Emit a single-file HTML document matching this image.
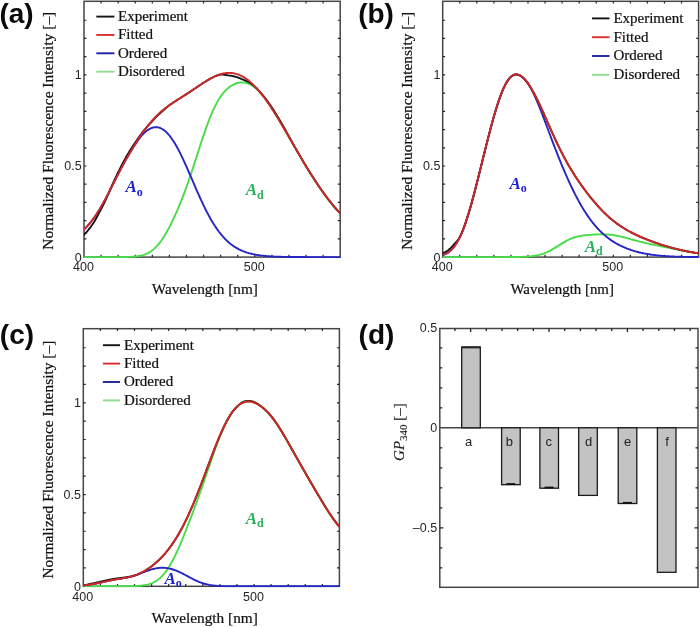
<!DOCTYPE html>
<html><head><meta charset="utf-8"><title>Fluorescence spectra</title><style>
html,body{margin:0;padding:0;background:#fff;}
body{width:700px;height:627px;overflow:hidden;}
svg{display:block;will-change:transform;filter:blur(0.3px);}
.tk{font-family:"Liberation Sans",sans-serif;font-size:12.5px;fill:#262626;}
.ax{font-family:"Liberation Serif",serif;font-size:15.3px;fill:#111;stroke:#111;stroke-width:0.22px;}
.ay{font-family:"Liberation Serif",serif;font-size:15.45px;fill:#111;stroke:#111;stroke-width:0.22px;}
.lg{font-family:"Liberation Serif",serif;font-size:15px;fill:#111;stroke:#111;stroke-width:0.22px;}
.pl{font-family:"Liberation Sans",sans-serif;font-size:28px;font-weight:bold;fill:#0a0a0a;}
.al{font-family:"Liberation Serif",serif;font-size:17px;font-weight:bold;font-style:italic;}
.as{font-family:"Liberation Serif",serif;font-size:12px;font-weight:bold;}
.bl{font-family:"Liberation Sans",sans-serif;font-size:13px;fill:#222;}
.gp{font-family:"Liberation Serif",serif;font-size:15px;fill:#1a1a1a;stroke:#1a1a1a;stroke-width:0.15px;}
</style></head>
<body><svg width="700" height="627" viewBox="0 0 700 627">
<defs><clipPath id="ca"><rect x="84.0" y="1.3" width="256.20" height="256.80"/></clipPath><clipPath id="cb"><rect x="442.7" y="1.3" width="255.90" height="256.80"/></clipPath><clipPath id="cc"><rect x="83.3" y="328.7" width="256.10" height="258.60"/></clipPath></defs>
<rect x="84.0" y="1.3" width="256.20" height="255.80" fill="none" stroke="#464646" stroke-width="1.5"/>
<path d="M101.08,257.1v-2.3M101.08,1.3v2.3M118.16,257.1v-2.3M118.16,1.3v2.3M135.24,257.1v-2.3M135.24,1.3v2.3M152.32,257.1v-2.3M152.32,1.3v2.3M169.40,257.1v-2.3M169.40,1.3v2.3M186.48,257.1v-2.3M186.48,1.3v2.3M203.56,257.1v-2.3M203.56,1.3v2.3M220.64,257.1v-2.3M220.64,1.3v2.3M237.72,257.1v-2.3M237.72,1.3v2.3M254.80,257.1v-2.3M254.80,1.3v2.3M271.88,257.1v-2.3M271.88,1.3v2.3M288.96,257.1v-2.3M288.96,1.3v2.3M306.04,257.1v-2.3M306.04,1.3v2.3M323.12,257.1v-2.3M323.12,1.3v2.3M84.0,238.88h2.4M340.2,238.88h-2.4M84.0,220.66h2.4M340.2,220.66h-2.4M84.0,202.44h2.4M340.2,202.44h-2.4M84.0,184.22h2.4M340.2,184.22h-2.4M84.0,166.00h2.4M340.2,166.00h-2.4M84.0,147.78h2.4M340.2,147.78h-2.4M84.0,129.56h2.4M340.2,129.56h-2.4M84.0,111.34h2.4M340.2,111.34h-2.4M84.0,93.12h2.4M340.2,93.12h-2.4M84.0,74.90h2.4M340.2,74.90h-2.4M84.0,56.68h2.4M340.2,56.68h-2.4M84.0,38.46h2.4M340.2,38.46h-2.4M84.0,20.24h2.4M340.2,20.24h-2.4" stroke="#262626" stroke-width="1.2" fill="none"/>
<text x="81.70" y="261.50" text-anchor="end" class="tk">0</text>
<text x="81.70" y="170.40" text-anchor="end" class="tk">0.5</text>
<text x="81.70" y="79.30" text-anchor="end" class="tk">1</text>
<text x="83.50" y="271.30" text-anchor="middle" class="tk">400</text>
<text x="254.30" y="271.30" text-anchor="middle" class="tk">500</text>
<g clip-path="url(#ca)"><polyline points="75.46,257.10 76.31,257.10 77.17,257.10 78.02,257.10 78.88,257.10 79.73,257.10 80.58,257.10 81.44,257.10 82.29,257.10 83.15,257.10 84.00,257.10 84.85,257.10 85.71,257.10 86.56,257.10 87.42,257.10 88.27,257.10 89.12,257.10 89.98,257.10 90.83,257.10 91.69,257.10 92.54,257.10 93.39,257.10 94.25,257.10 95.10,257.10 95.96,257.10 96.81,257.10 97.66,257.10 98.52,257.10 99.37,257.10 100.23,257.10 101.08,257.10 101.93,257.10 102.79,257.10 103.64,257.10 104.50,257.10 105.35,257.10 106.20,257.10 107.06,257.10 107.91,257.10 108.77,257.10 109.62,257.10 110.47,257.09 111.33,257.09 112.18,257.09 113.04,257.09 113.89,257.09 114.74,257.09 115.60,257.09 116.45,257.08 117.31,257.08 118.16,257.08 119.01,257.07 119.87,257.07 120.72,257.06 121.58,257.05 122.43,257.04 123.28,257.03 124.14,257.02 124.99,257.01 125.85,256.99 126.70,256.97 127.55,256.95 128.41,256.92 129.26,256.89 130.12,256.86 130.97,256.82 131.82,256.77 132.68,256.72 133.53,256.65 134.39,256.58 135.24,256.50 136.09,256.41 136.95,256.31 137.80,256.19 138.66,256.05 139.51,255.90 140.36,255.73 141.22,255.54 142.07,255.33 142.93,255.09 143.78,254.83 144.63,254.53 145.49,254.21 146.34,253.86 147.20,253.47 148.05,253.05 148.90,252.58 149.76,252.08 150.61,251.53 151.47,250.95 152.32,250.31 153.17,249.63 154.03,248.90 154.88,248.12 155.74,247.29 156.59,246.40 157.44,245.47 158.30,244.48 159.15,243.44 160.01,242.35 160.86,241.21 161.71,240.01 162.57,238.77 163.42,237.47 164.28,236.12 165.13,234.73 165.98,233.29 166.84,231.80 167.69,230.27 168.55,228.69 169.40,227.08 170.25,225.42 171.11,223.72 171.96,221.99 172.82,220.21 173.67,218.40 174.52,216.55 175.38,214.67 176.23,212.75 177.09,210.80 177.94,208.81 178.79,206.78 179.65,204.72 180.50,202.62 181.36,200.49 182.21,198.32 183.06,196.11 183.92,193.86 184.77,191.58 185.63,189.26 186.48,186.91 187.33,184.51 188.19,182.08 189.04,179.62 189.90,177.13 190.75,174.60 191.60,172.05 192.46,169.47 193.31,166.87 194.17,164.24 195.02,161.60 195.87,158.95 196.73,156.30 197.58,153.64 198.44,150.98 199.29,148.32 200.14,145.68 201.00,143.06 201.85,140.46 202.71,137.88 203.56,135.34 204.41,132.83 205.27,130.36 206.12,127.94 206.98,125.57 207.83,123.26 208.68,121.00 209.54,118.80 210.39,116.67 211.25,114.61 212.10,112.61 212.95,110.68 213.81,108.83 214.66,107.04 215.52,105.33 216.37,103.69 217.22,102.13 218.08,100.64 218.93,99.22 219.79,97.87 220.64,96.59 221.49,95.37 222.35,94.23 223.20,93.15 224.06,92.13 224.91,91.17 225.76,90.27 226.62,89.43 227.47,88.64 228.33,87.91 229.18,87.23 230.03,86.59 230.89,86.01 231.74,85.48 232.60,84.99 233.45,84.54 234.30,84.14 235.16,83.79 236.01,83.47 236.87,83.20 237.72,82.97 238.57,82.78 239.43,82.64 240.28,82.54 241.14,82.47 241.99,82.45 242.84,82.48 243.70,82.54 244.55,82.65 245.41,82.80 246.26,83.00 247.11,83.24 247.97,83.53 248.82,83.86 249.68,84.24 250.53,84.66 251.38,85.12 252.24,85.64 253.09,86.20 253.95,86.80 254.80,87.45 255.65,88.14 256.51,88.88 257.36,89.66 258.22,90.48 259.07,91.35 259.92,92.25 260.78,93.20 261.63,94.18 262.49,95.20 263.34,96.26 264.19,97.35 265.05,98.47 265.90,99.63 266.76,100.81 267.61,102.03 268.46,103.27 269.32,104.53 270.17,105.82 271.03,107.13 271.88,108.46 272.73,109.81 273.59,111.17 274.44,112.55 275.30,113.95 276.15,115.36 277.00,116.77 277.86,118.20 278.71,119.64 279.57,121.08 280.42,122.53 281.27,123.99 282.13,125.45 282.98,126.91 283.84,128.38 284.69,129.84 285.54,131.31 286.40,132.78 287.25,134.25 288.11,135.72 288.96,137.19 289.81,138.65 290.67,140.12 291.52,141.58 292.38,143.04 293.23,144.50 294.08,145.96 294.94,147.41 295.79,148.86 296.65,150.30 297.50,151.75 298.35,153.19 299.21,154.62 300.06,156.06 300.92,157.49 301.77,158.91 302.62,160.33 303.48,161.75 304.33,163.16 305.19,164.57 306.04,165.97 306.89,167.37 307.75,168.77 308.60,170.15 309.46,171.54 310.31,172.91 311.16,174.28 312.02,175.65 312.87,177.00 313.73,178.35 314.58,179.69 315.43,181.02 316.29,182.34 317.14,183.66 318.00,184.96 318.85,186.25 319.70,187.53 320.56,188.80 321.41,190.06 322.27,191.30 323.12,192.53 323.97,193.75 324.83,194.95 325.68,196.14 326.54,197.31 327.39,198.46 328.24,199.60 329.10,200.72 329.95,201.82 330.81,202.91 331.66,203.97 332.51,205.02 333.37,206.04 334.22,207.05 335.08,208.03 335.93,209.00 336.78,209.94 337.64,210.86 338.49,211.76 339.35,212.64 340.20,213.49 341.05,214.32 341.91,215.13 342.76,215.92 343.62,216.68 344.47,217.42 345.32,218.13 346.18,218.83 347.03,219.50 347.89,220.15 348.74,220.77" fill="none" stroke="#48dc48" stroke-width="1.9" stroke-linejoin="round"/>
<polyline points="75.46,236.60 76.31,235.99 77.17,235.35 78.02,234.70 78.88,234.03 79.73,233.34 80.58,232.62 81.44,231.88 82.29,231.12 83.15,230.33 84.00,229.52 84.85,228.68 85.71,227.81 86.56,226.91 87.42,225.99 88.27,225.03 89.12,224.05 89.98,223.03 90.83,221.98 91.69,220.90 92.54,219.79 93.39,218.64 94.25,217.46 95.10,216.24 95.96,214.99 96.81,213.70 97.66,212.38 98.52,211.03 99.37,209.64 100.23,208.22 101.08,206.77 101.93,205.29 102.79,203.79 103.64,202.25 104.50,200.69 105.35,199.11 106.20,197.50 107.06,195.88 107.91,194.24 108.77,192.58 109.62,190.91 110.47,189.24 111.33,187.55 112.18,185.87 113.04,184.18 113.89,182.49 114.74,180.80 115.60,179.12 116.45,177.44 117.31,175.77 118.16,174.12 119.01,172.47 119.87,170.84 120.72,169.22 121.58,167.62 122.43,166.04 123.28,164.47 124.14,162.92 124.99,161.38 125.85,159.87 126.70,158.37 127.55,156.90 128.41,155.44 129.26,154.00 130.12,152.58 130.97,151.18 131.82,149.81 132.68,148.45 133.53,147.10 134.39,145.78 135.24,144.47 136.09,143.18 136.95,141.93 137.80,140.70 138.66,139.51 139.51,138.36 140.36,137.26 141.22,136.21 142.07,135.21 142.93,134.27 143.78,133.38 144.63,132.56 145.49,131.80 146.34,131.10 147.20,130.45 148.05,129.87 148.90,129.33 149.76,128.85 150.61,128.43 151.47,128.07 152.32,127.77 153.17,127.54 154.03,127.36 154.88,127.25 155.74,127.21 156.59,127.22 157.44,127.31 158.30,127.46 159.15,127.67 160.01,127.96 160.86,128.31 161.71,128.73 162.57,129.22 163.42,129.77 164.28,130.39 165.13,131.08 165.98,131.83 166.84,132.66 167.69,133.54 168.55,134.49 169.40,135.51 170.25,136.59 171.11,137.73 171.96,138.93 172.82,140.18 173.67,141.50 174.52,142.87 175.38,144.30 176.23,145.77 177.09,147.30 177.94,148.88 178.79,150.50 179.65,152.16 180.50,153.86 181.36,155.60 182.21,157.38 183.06,159.19 183.92,161.03 184.77,162.90 185.63,164.79 186.48,166.70 187.33,168.64 188.19,170.59 189.04,172.55 189.90,174.52 190.75,176.50 191.60,178.48 192.46,180.47 193.31,182.45 194.17,184.44 195.02,186.41 195.87,188.38 196.73,190.33 197.58,192.27 198.44,194.20 199.29,196.11 200.14,198.00 201.00,199.86 201.85,201.71 202.71,203.52 203.56,205.31 204.41,207.07 205.27,208.81 206.12,210.51 206.98,212.17 207.83,213.81 208.68,215.40 209.54,216.97 210.39,218.50 211.25,219.99 212.10,221.44 212.95,222.86 213.81,224.23 214.66,225.58 215.52,226.88 216.37,228.14 217.22,229.37 218.08,230.56 218.93,231.71 219.79,232.82 220.64,233.90 221.49,234.94 222.35,235.94 223.20,236.91 224.06,237.85 224.91,238.75 225.76,239.61 226.62,240.45 227.47,241.25 228.33,242.02 229.18,242.76 230.03,243.47 230.89,244.15 231.74,244.80 232.60,245.43 233.45,246.02 234.30,246.60 235.16,247.14 236.01,247.67 236.87,248.16 237.72,248.64 238.57,249.10 239.43,249.53 240.28,249.94 241.14,250.34 241.99,250.71 242.84,251.07 243.70,251.41 244.55,251.73 245.41,252.04 246.26,252.33 247.11,252.61 247.97,252.87 248.82,253.12 249.68,253.35 250.53,253.58 251.38,253.79 252.24,253.99 253.09,254.18 253.95,254.36 254.80,254.53 255.65,254.69 256.51,254.84 257.36,254.98 258.22,255.11 259.07,255.24 259.92,255.36 260.78,255.47 261.63,255.58 262.49,255.68 263.34,255.77 264.19,255.86 265.05,255.94 265.90,256.02 266.76,256.10 267.61,256.16 268.46,256.23 269.32,256.29 270.17,256.35 271.03,256.40 271.88,256.45 272.73,256.49 273.59,256.54 274.44,256.58 275.30,256.62 276.15,256.65 277.00,256.68 277.86,256.71 278.71,256.74 279.57,256.77 280.42,256.79 281.27,256.82 282.13,256.84 282.98,256.86 283.84,256.88 284.69,256.90 285.54,256.91 286.40,256.93 287.25,256.94 288.11,256.95 288.96,256.96 289.81,256.98 290.67,256.99 291.52,256.99 292.38,257.00 293.23,257.01 294.08,257.02 294.94,257.03 295.79,257.03 296.65,257.04 297.50,257.04 298.35,257.05 299.21,257.05 300.06,257.06 300.92,257.06 301.77,257.06 302.62,257.07 303.48,257.07 304.33,257.07 305.19,257.07 306.04,257.08 306.89,257.08 307.75,257.08 308.60,257.08 309.46,257.08 310.31,257.09 311.16,257.09 312.02,257.09 312.87,257.09 313.73,257.09 314.58,257.09 315.43,257.09 316.29,257.09 317.14,257.09 318.00,257.09 318.85,257.09 319.70,257.10 320.56,257.10 321.41,257.10 322.27,257.10 323.12,257.10 323.97,257.10 324.83,257.10 325.68,257.10 326.54,257.10 327.39,257.10 328.24,257.10 329.10,257.10 329.95,257.10 330.81,257.10 331.66,257.10 332.51,257.10 333.37,257.10 334.22,257.10 335.08,257.10 335.93,257.10 336.78,257.10 337.64,257.10 338.49,257.10 339.35,257.10 340.20,257.10 341.05,257.10 341.91,257.10 342.76,257.10 343.62,257.10 344.47,257.10 345.32,257.10 346.18,257.10 347.03,257.10 347.89,257.10 348.74,257.10" fill="none" stroke="#2626c4" stroke-width="1.9" stroke-linejoin="round"/>
<polyline points="75.46,241.99 76.31,241.37 77.17,240.73 78.02,240.07 78.88,239.39 79.73,238.68 80.58,237.95 81.44,237.20 82.29,236.43 83.15,235.63 84.00,234.80 84.85,233.93 85.71,233.01 86.56,232.04 87.42,231.04 88.27,230.00 89.12,228.94 89.98,227.84 90.83,226.71 91.69,225.54 92.54,224.31 93.39,223.04 94.25,221.68 95.10,220.22 95.96,218.67 96.81,217.08 97.66,215.48 98.52,213.90 99.37,212.34 100.23,210.76 101.08,209.17 101.93,207.54 102.79,205.86 103.64,204.14 104.50,202.37 105.35,200.56 106.20,198.72 107.06,196.85 107.91,194.96 108.77,193.02 109.62,191.04 110.47,189.03 111.33,187.03 112.18,185.08 113.04,183.18 113.89,181.30 114.74,179.44 115.60,177.60 116.45,175.79 117.31,174.01 118.16,172.27 119.01,170.56 119.87,168.87 120.72,167.19 121.58,165.54 122.43,163.90 123.28,162.29 124.14,160.69 124.99,159.12 125.85,157.58 126.70,156.06 127.55,154.57 128.41,153.13 129.26,151.71 130.12,150.33 130.97,148.98 131.82,147.65 132.68,146.33 133.53,145.04 134.39,143.75 135.24,142.47 136.09,141.20 136.95,139.95 137.80,138.72 138.66,137.50 139.51,136.30 140.36,135.12 141.22,133.96 142.07,132.82 142.93,131.70 143.78,130.61 144.63,129.55 145.49,128.54 146.34,127.57 147.20,126.62 148.05,125.69 148.90,124.78 149.76,123.87 150.61,122.95 151.47,122.02 152.32,121.07 153.17,120.12 154.03,119.18 154.88,118.28 155.74,117.39 156.59,116.53 157.44,115.69 158.30,114.87 159.15,114.08 160.01,113.30 160.86,112.55 161.71,111.79 162.57,111.02 163.42,110.24 164.28,109.46 165.13,108.69 165.98,107.93 166.84,107.19 167.69,106.49 168.55,105.82 169.40,105.20 170.25,104.61 171.11,104.02 171.96,103.45 172.82,102.88 173.67,102.32 174.52,101.76 175.38,101.21 176.23,100.66 177.09,100.12 177.94,99.57 178.79,99.03 179.65,98.48 180.50,97.94 181.36,97.40 182.21,96.85 183.06,96.31 183.92,95.76 184.77,95.21 185.63,94.66 186.48,94.10 187.33,93.55 188.19,92.99 189.04,92.42 189.90,91.86 190.75,91.29 191.60,90.72 192.46,90.15 193.31,89.58 194.17,89.00 195.02,88.43 195.87,87.85 196.73,87.28 197.58,86.70 198.44,86.13 199.29,85.56 200.14,84.99 201.00,84.43 201.85,83.87 202.71,83.31 203.56,82.76 204.41,82.22 205.27,81.68 206.12,81.15 206.98,80.63 207.83,80.12 208.68,79.62 209.54,79.13 210.39,78.66 211.25,78.19 212.10,77.74 212.95,77.31 213.81,76.89 214.66,76.49 215.52,76.13 216.37,75.79 217.22,75.48 218.08,75.19 218.93,74.93 219.79,74.74 220.64,74.64 221.49,74.61 222.35,74.61 223.20,74.64 224.06,74.71 224.91,74.84 225.76,75.00 226.62,75.17 227.47,75.29 228.33,75.37 229.18,75.48 230.03,75.60 230.89,75.75 231.74,75.91 232.60,76.09 233.45,76.28 234.30,76.49 235.16,76.70 236.01,76.93 236.87,77.18 237.72,77.46 238.57,77.77 239.43,78.11 240.28,78.48 241.14,78.83 241.99,79.17 242.84,79.52 243.70,79.89 244.55,80.25 245.41,80.58 246.26,80.92 247.11,81.29 247.97,81.71 248.82,82.16 249.68,82.63 250.53,83.15 251.38,83.74 252.24,84.40 253.09,85.11 253.95,85.85 254.80,86.64 255.65,87.45 256.51,88.30 257.36,89.17 258.22,90.05 259.07,90.96 259.92,91.89 260.78,92.84 261.63,93.82 262.49,94.82 263.34,95.87 264.19,96.93 265.05,98.02 265.90,99.12 266.76,100.25 267.61,101.40 268.46,102.57 269.32,103.78 270.17,105.01 271.03,106.27 271.88,107.57 272.73,108.88 273.59,110.22 274.44,111.56 275.30,112.92 276.15,114.30 277.00,115.68 277.86,117.08 278.71,118.48 279.57,119.90 280.42,121.32 281.27,122.77 282.13,124.24 282.98,125.73 283.84,127.24 284.69,128.76 285.54,130.30 286.40,131.84 287.25,133.38 288.11,134.93 288.96,136.46 289.81,138.00 290.67,139.55 291.52,141.11 292.38,142.66 293.23,144.21 294.08,145.76 294.94,147.29 295.79,148.82 296.65,150.32 297.50,151.80 298.35,153.27 299.21,154.73 300.06,156.19 300.92,157.64 301.77,159.09 302.62,160.53 303.48,161.96 304.33,163.39 305.19,164.81 306.04,166.22 306.89,167.63 307.75,169.02 308.60,170.41 309.46,171.78 310.31,173.15 311.16,174.51 312.02,175.86 312.87,177.19 313.73,178.52 314.58,179.84 315.43,181.14 316.29,182.43 317.14,183.71 318.00,184.98 318.85,186.24 319.70,187.48 320.56,188.71 321.41,189.93 322.27,191.14 323.12,192.33 323.97,193.51 324.83,194.68 325.68,195.83 326.54,196.97 327.39,198.10 328.24,199.21 329.10,200.31 329.95,201.39 330.81,202.46 331.66,203.52 332.51,204.57 333.37,205.60 334.22,206.61 335.08,207.61 335.93,208.60 336.78,209.58 337.64,210.54 338.49,211.48 339.35,212.42 340.20,213.34 341.05,214.24 341.91,215.13 342.76,216.01 343.62,216.88 344.47,217.73 345.32,218.57 346.18,219.39 347.03,220.20 347.89,221.00 348.74,221.79" fill="none" stroke="#141414" stroke-width="1.9" stroke-linejoin="round"/>
<polyline points="75.46,236.60 76.31,235.99 77.17,235.35 78.02,234.70 78.88,234.03 79.73,233.34 80.58,232.62 81.44,231.88 82.29,231.12 83.15,230.33 84.00,229.52 84.85,228.68 85.71,227.81 86.56,226.91 87.42,225.99 88.27,225.03 89.12,224.05 89.98,223.03 90.83,221.98 91.69,220.90 92.54,219.79 93.39,218.64 94.25,217.45 95.10,216.24 95.96,214.99 96.81,213.70 97.66,212.38 98.52,211.03 99.37,209.64 100.23,208.22 101.08,206.77 101.93,205.29 102.79,203.78 103.64,202.25 104.50,200.69 105.35,199.10 106.20,197.50 107.06,195.87 107.91,194.23 108.77,192.58 109.62,190.91 110.47,189.23 111.33,187.55 112.18,185.86 113.04,184.17 113.89,182.47 114.74,180.79 115.60,179.10 116.45,177.42 117.31,175.75 118.16,174.09 119.01,172.44 119.87,170.81 120.72,169.18 121.58,167.58 122.43,165.98 123.28,164.40 124.14,162.84 124.99,161.29 125.85,159.76 126.70,158.25 127.55,156.75 128.41,155.26 129.26,153.79 130.12,152.34 130.97,150.90 131.82,149.48 132.68,148.07 133.53,146.67 134.39,145.30 135.24,143.93 136.09,142.58 136.95,141.25 137.80,139.93 138.66,138.62 139.51,137.33 140.36,136.06 141.22,134.81 142.07,133.57 142.93,132.35 143.78,131.16 144.63,129.98 145.49,128.82 146.34,127.68 147.20,126.56 148.05,125.47 148.90,124.40 149.76,123.35 150.61,122.32 151.47,121.32 152.32,120.34 153.17,119.39 154.03,118.46 154.88,117.55 155.74,116.66 156.59,115.80 157.44,114.96 158.30,114.15 159.15,113.35 160.01,112.58 160.86,111.82 161.71,111.09 162.57,110.37 163.42,109.67 164.28,108.99 165.13,108.32 165.98,107.67 166.84,107.04 167.69,106.41 168.55,105.80 169.40,105.20 170.25,104.61 171.11,104.02 171.96,103.45 172.82,102.88 173.67,102.32 174.52,101.76 175.38,101.21 176.23,100.66 177.09,100.12 177.94,99.57 178.79,99.03 179.65,98.48 180.50,97.94 181.36,97.40 182.21,96.85 183.06,96.31 183.92,95.76 184.77,95.21 185.63,94.66 186.48,94.10 187.33,93.55 188.19,92.99 189.04,92.42 189.90,91.86 190.75,91.29 191.60,90.72 192.46,90.15 193.31,89.58 194.17,89.00 195.02,88.43 195.87,87.85 196.73,87.28 197.58,86.70 198.44,86.13 199.29,85.56 200.14,84.99 201.00,84.43 201.85,83.87 202.71,83.31 203.56,82.76 204.41,82.22 205.27,81.68 206.12,81.15 206.98,80.63 207.83,80.12 208.68,79.62 209.54,79.13 210.39,78.66 211.25,78.19 212.10,77.74 212.95,77.31 213.81,76.89 214.66,76.49 215.52,76.10 216.37,75.74 217.22,75.39 218.08,75.06 218.93,74.75 219.79,74.47 220.64,74.20 221.49,73.96 222.35,73.74 223.20,73.54 224.06,73.37 224.91,73.23 225.76,73.11 226.62,73.01 227.47,72.95 228.33,72.91 229.18,72.89 230.03,72.91 230.89,72.95 231.74,73.02 232.60,73.13 233.45,73.26 234.30,73.42 235.16,73.61 236.01,73.83 236.87,74.08 237.72,74.36 238.57,74.67 239.43,75.02 240.28,75.39 241.14,75.79 241.99,76.23 242.84,76.69 243.70,77.18 244.55,77.71 245.41,78.27 246.26,78.85 247.11,79.47 247.97,80.11 248.82,80.79 249.68,81.49 250.53,82.22 251.38,82.98 252.24,83.77 253.09,84.59 253.95,85.43 254.80,86.31 255.65,87.20 256.51,88.13 257.36,89.08 258.22,90.05 259.07,91.06 259.92,92.08 260.78,93.13 261.63,94.20 262.49,95.30 263.34,96.41 264.19,97.55 265.05,98.71 265.90,99.89 266.76,101.09 267.61,102.31 268.46,103.54 269.32,104.80 270.17,106.07 271.03,107.35 271.88,108.66 272.73,109.98 273.59,111.31 274.44,112.66 275.30,114.02 276.15,115.39 277.00,116.77 277.86,118.17 278.71,119.58 279.57,120.99 280.42,122.42 281.27,123.85 282.13,125.29 282.98,126.74 283.84,128.19 284.69,129.65 285.54,131.11 286.40,132.58 287.25,134.06 288.11,135.53 288.96,137.01 289.81,138.49 290.67,139.97 291.52,141.45 292.38,142.94 293.23,144.42 294.08,145.90 294.94,147.38 295.79,148.85 296.65,150.33 297.50,151.80 298.35,153.27 299.21,154.73 300.06,156.19 300.92,157.64 301.77,159.09 302.62,160.53 303.48,161.96 304.33,163.39 305.19,164.81 306.04,166.22 306.89,167.63 307.75,169.02 308.60,170.41 309.46,171.78 310.31,173.15 311.16,174.51 312.02,175.86 312.87,177.19 313.73,178.52 314.58,179.84 315.43,181.14 316.29,182.43 317.14,183.71 318.00,184.98 318.85,186.24 319.70,187.48 320.56,188.71 321.41,189.93 322.27,191.14 323.12,192.33 323.97,193.51 324.83,194.68 325.68,195.83 326.54,196.97 327.39,198.10 328.24,199.21 329.10,200.31 329.95,201.39 330.81,202.46 331.66,203.52 332.51,204.57 333.37,205.60 334.22,206.61 335.08,207.61 335.93,208.60 336.78,209.58 337.64,210.54 338.49,211.48 339.35,212.42 340.20,213.34 341.05,214.24 341.91,215.13 342.76,216.01 343.62,216.88 344.47,217.73 345.32,218.57 346.18,219.39 347.03,220.20 347.89,221.00 348.74,221.79" fill="none" stroke="#d02828" stroke-width="1.9" stroke-linejoin="round"/></g>
<line x1="96.3" y1="16.60" x2="114.4" y2="16.60" stroke="#141414" stroke-width="1.9"/>
<text x="118" y="20.90" class="lg">Experiment</text>
<line x1="96.3" y1="34.95" x2="114.4" y2="34.95" stroke="#dc3030" stroke-width="1.9"/>
<text x="118" y="39.25" class="lg">Fitted</text>
<line x1="96.3" y1="53.30" x2="114.4" y2="53.30" stroke="#20209e" stroke-width="1.9"/>
<text x="118" y="57.60" class="lg">Ordered</text>
<line x1="96.3" y1="71.65" x2="114.4" y2="71.65" stroke="#8ede8e" stroke-width="1.9"/>
<text x="118" y="75.95" class="lg">Disordered</text>
<text transform="translate(53.2,130.7) rotate(-90)" text-anchor="middle" class="ay">Normalized Fluorescence Intensity [–]</text>
<text x="204.8" y="294.0" text-anchor="middle" class="ax">Wavelength [nm]</text>
<text x="125.5" y="192.3" class="al" fill="#1c22cc">A</text><text x="136.70" y="195.90" class="as" fill="#1c22cc">o</text>
<text x="245.8" y="195.4" class="al" fill="#2bb05c">A</text><text x="257.00" y="199.00" class="as" fill="#2bb05c">d</text>
<text x="-0.6" y="23.2" class="pl">(a)</text>
<rect x="442.7" y="1.3" width="255.90" height="255.80" fill="none" stroke="#464646" stroke-width="1.5"/>
<path d="M459.76,257.1v-2.3M459.76,1.3v2.3M476.82,257.1v-2.3M476.82,1.3v2.3M493.88,257.1v-2.3M493.88,1.3v2.3M510.94,257.1v-2.3M510.94,1.3v2.3M528.00,257.1v-2.3M528.00,1.3v2.3M545.06,257.1v-2.3M545.06,1.3v2.3M562.12,257.1v-2.3M562.12,1.3v2.3M579.18,257.1v-2.3M579.18,1.3v2.3M596.24,257.1v-2.3M596.24,1.3v2.3M613.30,257.1v-2.3M613.30,1.3v2.3M630.36,257.1v-2.3M630.36,1.3v2.3M647.42,257.1v-2.3M647.42,1.3v2.3M664.48,257.1v-2.3M664.48,1.3v2.3M681.54,257.1v-2.3M681.54,1.3v2.3M442.7,238.88h2.4M698.6,238.88h-2.4M442.7,220.66h2.4M698.6,220.66h-2.4M442.7,202.44h2.4M698.6,202.44h-2.4M442.7,184.22h2.4M698.6,184.22h-2.4M442.7,166.00h2.4M698.6,166.00h-2.4M442.7,147.78h2.4M698.6,147.78h-2.4M442.7,129.56h2.4M698.6,129.56h-2.4M442.7,111.34h2.4M698.6,111.34h-2.4M442.7,93.12h2.4M698.6,93.12h-2.4M442.7,74.90h2.4M698.6,74.90h-2.4M442.7,56.68h2.4M698.6,56.68h-2.4M442.7,38.46h2.4M698.6,38.46h-2.4M442.7,20.24h2.4M698.6,20.24h-2.4" stroke="#262626" stroke-width="1.2" fill="none"/>
<text x="440.40" y="261.50" text-anchor="end" class="tk">0</text>
<text x="440.40" y="170.40" text-anchor="end" class="tk">0.5</text>
<text x="440.40" y="79.30" text-anchor="end" class="tk">1</text>
<text x="442.20" y="271.30" text-anchor="middle" class="tk">400</text>
<text x="612.80" y="271.30" text-anchor="middle" class="tk">500</text>
<g clip-path="url(#cb)"><polyline points="434.17,257.10 435.02,257.10 435.88,257.10 436.73,257.10 437.58,257.10 438.44,257.10 439.29,257.10 440.14,257.10 440.99,257.10 441.85,257.10 442.70,257.10 443.55,257.10 444.41,257.10 445.26,257.10 446.11,257.10 446.96,257.10 447.82,257.10 448.67,257.10 449.52,257.10 450.38,257.10 451.23,257.10 452.08,257.10 452.94,257.10 453.79,257.10 454.64,257.10 455.50,257.10 456.35,257.10 457.20,257.10 458.05,257.10 458.91,257.10 459.76,257.10 460.61,257.10 461.47,257.10 462.32,257.10 463.17,257.10 464.02,257.10 464.88,257.10 465.73,257.10 466.58,257.10 467.44,257.10 468.29,257.10 469.14,257.10 470.00,257.10 470.85,257.10 471.70,257.10 472.56,257.10 473.41,257.10 474.26,257.10 475.11,257.10 475.97,257.10 476.82,257.10 477.67,257.10 478.53,257.10 479.38,257.10 480.23,257.10 481.08,257.10 481.94,257.10 482.79,257.10 483.64,257.10 484.50,257.10 485.35,257.10 486.20,257.10 487.06,257.10 487.91,257.10 488.76,257.10 489.62,257.10 490.47,257.10 491.32,257.10 492.17,257.09 493.03,257.09 493.88,257.09 494.73,257.09 495.59,257.09 496.44,257.09 497.29,257.09 498.14,257.09 499.00,257.09 499.85,257.09 500.70,257.09 501.56,257.08 502.41,257.08 503.26,257.08 504.12,257.08 504.97,257.08 505.82,257.07 506.68,257.07 507.53,257.07 508.38,257.06 509.23,257.06 510.09,257.05 510.94,257.05 511.79,257.04 512.65,257.04 513.50,257.03 514.35,257.02 515.21,257.01 516.06,257.00 516.91,256.99 517.76,256.97 518.62,256.95 519.47,256.94 520.32,256.92 521.18,256.89 522.03,256.87 522.88,256.84 523.74,256.80 524.59,256.76 525.44,256.72 526.29,256.68 527.15,256.62 528.00,256.56 528.85,256.50 529.71,256.42 530.56,256.34 531.41,256.25 532.26,256.15 533.12,256.04 533.97,255.92 534.82,255.78 535.68,255.64 536.53,255.48 537.38,255.30 538.24,255.11 539.09,254.91 539.94,254.69 540.79,254.45 541.65,254.19 542.50,253.92 543.35,253.62 544.21,253.31 545.06,252.98 545.91,252.63 546.77,252.26 547.62,251.87 548.47,251.46 549.33,251.04 550.18,250.59 551.03,250.14 551.88,249.66 552.74,249.17 553.59,248.67 554.44,248.16 555.30,247.64 556.15,247.11 557.00,246.58 557.86,246.04 558.71,245.50 559.56,244.96 560.41,244.42 561.27,243.88 562.12,243.36 562.97,242.84 563.83,242.33 564.68,241.83 565.53,241.35 566.38,240.88 567.24,240.43 568.09,239.99 568.94,239.58 569.80,239.18 570.65,238.81 571.50,238.46 572.36,238.12 573.21,237.81 574.06,237.52 574.91,237.25 575.77,237.00 576.62,236.77 577.47,236.56 578.33,236.36 579.18,236.18 580.03,236.02 580.89,235.87 581.74,235.73 582.59,235.61 583.44,235.49 584.30,235.38 585.15,235.29 586.00,235.20 586.86,235.11 587.71,235.04 588.56,234.96 589.42,234.89 590.27,234.83 591.12,234.77 591.98,234.71 592.83,234.66 593.68,234.60 594.53,234.56 595.39,234.51 596.24,234.47 597.09,234.43 597.95,234.40 598.80,234.37 599.65,234.35 600.50,234.33 601.36,234.33 602.21,234.32 603.06,234.33 603.92,234.34 604.77,234.37 605.62,234.40 606.48,234.44 607.33,234.49 608.18,234.55 609.03,234.62 609.89,234.70 610.74,234.79 611.59,234.89 612.45,235.00 613.30,235.13 614.15,235.26 615.01,235.40 615.86,235.55 616.71,235.71 617.57,235.88 618.42,236.06 619.27,236.24 620.12,236.43 620.98,236.63 621.83,236.83 622.68,237.04 623.54,237.26 624.39,237.48 625.24,237.70 626.10,237.93 626.95,238.15 627.80,238.38 628.65,238.62 629.51,238.85 630.36,239.08 631.21,239.32 632.07,239.55 632.92,239.78 633.77,240.02 634.62,240.25 635.48,240.47 636.33,240.70 637.18,240.93 638.04,241.15 638.89,241.37 639.74,241.59 640.60,241.80 641.45,242.02 642.30,242.23 643.15,242.43 644.01,242.64 644.86,242.84 645.71,243.04 646.57,243.24 647.42,243.43 648.27,243.62 649.13,243.81 649.98,244.00 650.83,244.18 651.68,244.37 652.54,244.55 653.39,244.73 654.24,244.90 655.10,245.08 655.95,245.25 656.80,245.43 657.66,245.60 658.51,245.77 659.36,245.94 660.22,246.11 661.07,246.28 661.92,246.45 662.77,246.62 663.63,246.79 664.48,246.96 665.33,247.13 666.19,247.29 667.04,247.46 667.89,247.63 668.75,247.80 669.60,247.96 670.45,248.13 671.30,248.30 672.16,248.46 673.01,248.63 673.86,248.80 674.72,248.96 675.57,249.13 676.42,249.29 677.27,249.46 678.13,249.62 678.98,249.79 679.83,249.95 680.69,250.11 681.54,250.27 682.39,250.44 683.25,250.60 684.10,250.75 684.95,250.91 685.81,251.07 686.66,251.22 687.51,251.38 688.36,251.53 689.22,251.68 690.07,251.83 690.92,251.98 691.78,252.12 692.63,252.27 693.48,252.41 694.34,252.55 695.19,252.69 696.04,252.83 696.89,252.96 697.75,253.09 698.60,253.22 699.45,253.35 700.31,253.47 701.16,253.59 702.01,253.71 702.87,253.83 703.72,253.94 704.57,254.06 705.42,254.17 706.28,254.27 707.13,254.38" fill="none" stroke="#48dc48" stroke-width="1.9" stroke-linejoin="round"/>
<polyline points="434.17,256.58 435.02,256.51 435.88,256.42 436.73,256.32 437.58,256.21 438.44,256.08 439.29,255.93 440.14,255.75 440.99,255.55 441.85,255.33 442.70,255.07 443.55,254.78 444.41,254.45 445.26,254.08 446.11,253.67 446.96,253.20 447.82,252.68 448.67,252.11 449.52,251.47 450.38,250.76 451.23,249.98 452.08,249.12 452.94,248.18 453.79,247.16 454.64,246.05 455.50,244.84 456.35,243.54 457.20,242.14 458.05,240.64 458.91,239.03 459.76,237.32 460.61,235.50 461.47,233.57 462.32,231.54 463.17,229.39 464.02,227.15 464.88,224.80 465.73,222.34 466.58,219.79 467.44,217.15 468.29,214.42 469.14,211.60 470.00,208.70 470.85,205.72 471.70,202.67 472.56,199.56 473.41,196.39 474.26,193.17 475.11,189.90 475.97,186.59 476.82,183.24 477.67,179.87 478.53,176.47 479.38,173.05 480.23,169.61 481.08,166.17 481.94,162.73 482.79,159.28 483.64,155.84 484.50,152.40 485.35,148.99 486.20,145.59 487.06,142.21 487.91,138.86 488.76,135.54 489.62,132.26 490.47,129.02 491.32,125.82 492.17,122.68 493.03,119.59 493.88,116.57 494.73,113.61 495.59,110.73 496.44,107.92 497.29,105.20 498.14,102.57 499.00,100.04 499.85,97.60 500.70,95.27 501.56,93.05 502.41,90.95 503.26,88.96 504.12,87.10 504.97,85.36 505.82,83.75 506.68,82.26 507.53,80.91 508.38,79.69 509.23,78.60 510.09,77.65 510.94,76.82 511.79,76.13 512.65,75.56 513.50,75.12 514.35,74.80 515.21,74.60 516.06,74.52 516.91,74.56 517.76,74.71 518.62,74.97 519.47,75.33 520.32,75.79 521.18,76.35 522.03,76.99 522.88,77.70 523.74,78.48 524.59,79.33 525.44,80.25 526.29,81.26 527.15,82.35 528.00,83.53 528.85,84.82 529.71,86.20 530.56,87.69 531.41,89.26 532.26,90.92 533.12,92.64 533.97,94.42 534.82,96.27 535.68,98.17 536.53,100.12 537.38,102.12 538.24,104.16 539.09,106.25 539.94,108.37 540.79,110.52 541.65,112.70 542.50,114.90 543.35,117.12 544.21,119.37 545.06,121.62 545.91,123.89 546.77,126.16 547.62,128.44 548.47,130.72 549.33,133.00 550.18,135.28 551.03,137.55 551.88,139.81 552.74,142.06 553.59,144.31 554.44,146.53 555.30,148.75 556.15,150.95 557.00,153.13 557.86,155.30 558.71,157.45 559.56,159.57 560.41,161.68 561.27,163.77 562.12,165.83 562.97,167.87 563.83,169.89 564.68,171.89 565.53,173.86 566.38,175.81 567.24,177.73 568.09,179.63 568.94,181.51 569.80,183.36 570.65,185.18 571.50,186.98 572.36,188.75 573.21,190.50 574.06,192.22 574.91,193.91 575.77,195.57 576.62,197.21 577.47,198.81 578.33,200.39 579.18,201.95 580.03,203.47 580.89,204.96 581.74,206.43 582.59,207.87 583.44,209.27 584.30,210.65 585.15,212.00 586.00,213.32 586.86,214.61 587.71,215.87 588.56,217.10 589.42,218.31 590.27,219.48 591.12,220.63 591.98,221.74 592.83,222.83 593.68,223.90 594.53,224.93 595.39,225.94 596.24,226.92 597.09,227.87 597.95,228.80 598.80,229.70 599.65,230.58 600.50,231.43 601.36,232.26 602.21,233.07 603.06,233.85 603.92,234.61 604.77,235.35 605.62,236.07 606.48,236.77 607.33,237.44 608.18,238.10 609.03,238.74 609.89,239.36 610.74,239.96 611.59,240.54 612.45,241.10 613.30,241.65 614.15,242.18 615.01,242.70 615.86,243.20 616.71,243.69 617.57,244.16 618.42,244.62 619.27,245.06 620.12,245.49 620.98,245.91 621.83,246.32 622.68,246.71 623.54,247.09 624.39,247.46 625.24,247.82 626.10,248.17 626.95,248.51 627.80,248.83 628.65,249.15 629.51,249.46 630.36,249.75 631.21,250.04 632.07,250.32 632.92,250.59 633.77,250.86 634.62,251.11 635.48,251.35 636.33,251.59 637.18,251.82 638.04,252.04 638.89,252.26 639.74,252.46 640.60,252.67 641.45,252.86 642.30,253.05 643.15,253.23 644.01,253.40 644.86,253.57 645.71,253.73 646.57,253.88 647.42,254.03 648.27,254.18 649.13,254.31 649.98,254.45 650.83,254.58 651.68,254.70 652.54,254.82 653.39,254.93 654.24,255.04 655.10,255.14 655.95,255.24 656.80,255.34 657.66,255.43 658.51,255.52 659.36,255.60 660.22,255.68 661.07,255.76 661.92,255.83 662.77,255.90 663.63,255.97 664.48,256.03 665.33,256.09 666.19,256.15 667.04,256.20 667.89,256.25 668.75,256.30 669.60,256.35 670.45,256.39 671.30,256.43 672.16,256.47 673.01,256.51 673.86,256.55 674.72,256.58 675.57,256.61 676.42,256.64 677.27,256.67 678.13,256.70 678.98,256.73 679.83,256.75 680.69,256.77 681.54,256.79 682.39,256.81 683.25,256.83 684.10,256.85 684.95,256.87 685.81,256.88 686.66,256.90 687.51,256.91 688.36,256.93 689.22,256.94 690.07,256.95 690.92,256.96 691.78,256.97 692.63,256.98 693.48,256.99 694.34,257.00 695.19,257.00 696.04,257.01 696.89,257.02 697.75,257.02 698.60,257.03 699.45,257.03 700.31,257.04 701.16,257.04 702.01,257.05 702.87,257.05 703.72,257.06 704.57,257.06 705.42,257.06 706.28,257.07 707.13,257.07" fill="none" stroke="#2626c4" stroke-width="1.9" stroke-linejoin="round"/>
<polyline points="434.17,255.49 435.02,255.36 435.88,255.21 436.73,255.04 437.58,254.85 438.44,254.64 439.29,254.41 440.14,254.16 440.99,253.88 441.85,253.58 442.70,253.25 443.55,252.89 444.41,252.48 445.26,252.04 446.11,251.55 446.96,251.01 447.82,250.42 448.67,249.79 449.52,249.10 450.38,248.34 451.23,247.51 452.08,246.62 452.94,245.65 453.79,244.61 454.64,243.59 455.50,242.70 456.35,241.83 457.20,240.88 458.05,239.73 458.91,238.42 459.76,237.00 460.61,235.41 461.47,233.57 462.32,231.54 463.17,229.39 464.02,227.15 464.88,224.80 465.73,222.34 466.58,219.79 467.44,217.15 468.29,214.42 469.14,211.60 470.00,208.69 470.85,205.72 471.70,202.67 472.56,199.56 473.41,196.39 474.26,193.17 475.11,189.90 475.97,186.59 476.82,183.24 477.67,179.87 478.53,176.47 479.38,173.05 480.23,169.61 481.08,166.17 481.94,162.72 482.79,159.28 483.64,155.83 484.50,152.40 485.35,148.98 486.20,145.58 487.06,142.21 487.91,138.85 488.76,135.54 489.62,132.25 490.47,129.01 491.32,125.82 492.17,122.67 493.03,119.59 493.88,116.56 494.73,113.60 495.59,110.72 496.44,107.91 497.29,105.19 498.14,102.56 499.00,100.02 499.85,97.59 500.70,95.26 501.56,93.04 502.41,90.93 503.26,88.94 504.12,87.08 504.97,85.33 505.82,83.72 506.68,82.23 507.53,80.88 508.38,79.66 509.23,78.56 510.09,77.60 510.94,76.77 511.79,76.07 512.65,75.49 513.50,75.05 514.35,74.72 515.21,74.51 516.06,74.42 516.91,74.45 517.76,74.58 518.62,74.82 519.47,75.16 520.32,75.61 521.18,76.14 522.03,76.77 522.88,77.49 523.74,78.29 524.59,79.17 525.44,80.13 526.29,81.16 527.15,82.26 528.00,83.43 528.85,84.66 529.71,85.96 530.56,87.31 531.41,88.72 532.26,90.18 533.12,91.69 533.97,93.25 534.82,94.85 535.68,96.49 536.53,98.18 537.38,99.90 538.24,101.65 539.09,103.43 539.94,105.24 540.79,107.08 541.65,108.94 542.50,110.82 543.35,112.71 544.21,114.62 545.06,116.54 545.91,118.46 546.77,120.39 547.62,122.33 548.47,124.26 549.33,126.19 550.18,128.12 551.03,130.03 551.88,131.94 552.74,133.84 553.59,135.72 554.44,137.58 555.30,139.43 556.15,141.26 557.00,143.07 557.86,144.85 558.71,146.62 559.56,148.36 560.41,150.08 561.27,151.77 562.12,153.44 562.97,155.08 563.83,156.70 564.68,158.30 565.53,159.87 566.38,161.41 567.24,162.94 568.09,164.43 568.94,165.91 569.80,167.36 570.65,168.79 571.50,170.20 572.36,171.59 573.21,172.96 574.06,174.32 574.91,175.65 575.77,176.96 576.62,178.26 577.47,179.54 578.33,180.81 579.18,182.06 580.03,183.29 580.89,184.51 581.74,185.72 582.59,186.91 583.44,188.09 584.30,189.26 585.15,190.41 586.00,191.55 586.86,192.67 587.71,193.79 588.56,194.89 589.42,195.97 590.27,197.05 591.12,198.11 591.98,199.16 592.83,200.19 593.68,201.22 594.53,202.22 595.39,203.22 596.24,204.20 597.09,205.17 597.95,206.12 598.80,207.06 599.65,207.98 600.50,208.89 601.36,209.79 602.21,210.67 603.06,211.54 603.92,212.39 604.77,213.22 605.62,214.05 606.48,214.85 607.33,215.64 608.18,216.42 609.03,217.18 609.89,217.93 610.74,218.66 611.59,219.38 612.45,220.08 613.30,220.77 614.15,221.45 615.01,222.11 615.86,222.76 616.71,223.39 617.57,224.01 618.42,224.62 619.27,225.22 620.12,225.80 620.98,226.37 621.83,226.93 622.68,227.48 623.54,228.02 624.39,228.54 625.24,229.06 626.10,229.57 626.95,230.06 627.80,230.55 628.65,231.03 629.51,231.49 630.36,231.95 631.21,232.40 632.07,232.85 632.92,233.28 633.77,233.71 634.62,234.13 635.48,234.54 636.33,234.95 637.18,235.35 638.04,235.74 638.89,236.13 639.74,236.51 640.60,236.89 641.45,237.26 642.30,237.63 643.15,237.99 644.01,238.34 644.86,238.69 645.71,239.04 646.57,239.38 647.42,239.72 648.27,240.05 649.13,240.38 649.98,240.71 650.83,241.03 651.68,241.34 652.54,241.66 653.39,241.97 654.24,242.27 655.10,242.57 655.95,242.87 656.80,243.17 657.66,243.46 658.51,243.75 659.36,244.03 660.22,244.31 661.07,244.59 661.92,244.86 662.77,245.13 663.63,245.40 664.48,245.66 665.33,245.92 666.19,246.18 667.04,246.43 667.89,246.68 668.75,246.93 669.60,247.17 670.45,247.41 671.30,247.64 672.16,247.88 673.01,248.11 673.86,248.33 674.72,248.55 675.57,248.77 676.42,248.99 677.27,249.20 678.13,249.40 678.98,249.61 679.83,249.81 680.69,250.01 681.54,250.20 682.39,250.39 683.25,250.58 684.10,250.76 684.95,250.94 685.81,251.12 686.66,251.29 687.51,251.46 688.36,251.62 689.22,251.79 690.07,251.94 690.92,252.10 691.78,252.25 692.63,252.40 693.48,252.55 694.34,252.69 695.19,252.83 696.04,252.96 696.89,253.10 697.75,253.22 698.60,253.35 699.45,253.47 700.31,253.59 701.16,253.71 702.01,253.82 702.87,253.94 703.72,254.04 704.57,254.15 705.42,254.25 706.28,254.35 707.13,254.45" fill="none" stroke="#141414" stroke-width="1.9" stroke-linejoin="round"/>
<polyline points="434.17,256.58 435.02,256.51 435.88,256.42 436.73,256.32 437.58,256.21 438.44,256.08 439.29,255.93 440.14,255.75 440.99,255.55 441.85,255.33 442.70,255.07 443.55,254.78 444.41,254.45 445.26,254.08 446.11,253.67 446.96,253.20 447.82,252.68 448.67,252.11 449.52,251.47 450.38,250.76 451.23,249.98 452.08,249.12 452.94,248.18 453.79,247.16 454.64,246.05 455.50,244.84 456.35,243.54 457.20,242.14 458.05,240.64 458.91,239.03 459.76,237.32 460.61,235.50 461.47,233.57 462.32,231.54 463.17,229.39 464.02,227.15 464.88,224.80 465.73,222.34 466.58,219.79 467.44,217.15 468.29,214.42 469.14,211.60 470.00,208.69 470.85,205.72 471.70,202.67 472.56,199.56 473.41,196.39 474.26,193.17 475.11,189.90 475.97,186.59 476.82,183.24 477.67,179.87 478.53,176.47 479.38,173.05 480.23,169.61 481.08,166.17 481.94,162.72 482.79,159.28 483.64,155.83 484.50,152.40 485.35,148.98 486.20,145.58 487.06,142.21 487.91,138.85 488.76,135.54 489.62,132.25 490.47,129.01 491.32,125.82 492.17,122.67 493.03,119.59 493.88,116.56 494.73,113.60 495.59,110.72 496.44,107.91 497.29,105.19 498.14,102.56 499.00,100.02 499.85,97.59 500.70,95.26 501.56,93.04 502.41,90.93 503.26,88.94 504.12,87.08 504.97,85.33 505.82,83.72 506.68,82.23 507.53,80.88 508.38,79.66 509.23,78.56 510.09,77.60 510.94,76.77 511.79,76.07 512.65,75.49 513.50,75.05 514.35,74.72 515.21,74.51 516.06,74.42 516.91,74.45 517.76,74.58 518.62,74.82 519.47,75.16 520.32,75.61 521.18,76.14 522.03,76.77 522.88,77.49 523.74,78.29 524.59,79.17 525.44,80.13 526.29,81.16 527.15,82.26 528.00,83.43 528.85,84.66 529.71,85.96 530.56,87.31 531.41,88.72 532.26,90.18 533.12,91.69 533.97,93.25 534.82,94.85 535.68,96.49 536.53,98.18 537.38,99.90 538.24,101.65 539.09,103.43 539.94,105.24 540.79,107.08 541.65,108.94 542.50,110.82 543.35,112.71 544.21,114.62 545.06,116.54 545.91,118.46 546.77,120.39 547.62,122.33 548.47,124.26 549.33,126.19 550.18,128.12 551.03,130.03 551.88,131.94 552.74,133.84 553.59,135.72 554.44,137.58 555.30,139.43 556.15,141.26 557.00,143.07 557.86,144.85 558.71,146.62 559.56,148.36 560.41,150.08 561.27,151.77 562.12,153.44 562.97,155.08 563.83,156.70 564.68,158.30 565.53,159.87 566.38,161.41 567.24,162.94 568.09,164.43 568.94,165.91 569.80,167.36 570.65,168.79 571.50,170.20 572.36,171.59 573.21,172.96 574.06,174.32 574.91,175.65 575.77,176.96 576.62,178.26 577.47,179.54 578.33,180.81 579.18,182.06 580.03,183.29 580.89,184.51 581.74,185.72 582.59,186.91 583.44,188.09 584.30,189.26 585.15,190.41 586.00,191.55 586.86,192.67 587.71,193.79 588.56,194.89 589.42,195.97 590.27,197.05 591.12,198.11 591.98,199.16 592.83,200.19 593.68,201.22 594.53,202.22 595.39,203.22 596.24,204.20 597.09,205.17 597.95,206.12 598.80,207.06 599.65,207.98 600.50,208.89 601.36,209.79 602.21,210.67 603.06,211.54 603.92,212.39 604.77,213.22 605.62,214.05 606.48,214.85 607.33,215.64 608.18,216.42 609.03,217.18 609.89,217.93 610.74,218.66 611.59,219.38 612.45,220.08 613.30,220.77 614.15,221.45 615.01,222.11 615.86,222.76 616.71,223.39 617.57,224.01 618.42,224.62 619.27,225.22 620.12,225.80 620.98,226.37 621.83,226.93 622.68,227.48 623.54,228.02 624.39,228.54 625.24,229.06 626.10,229.57 626.95,230.06 627.80,230.55 628.65,231.03 629.51,231.49 630.36,231.95 631.21,232.40 632.07,232.85 632.92,233.28 633.77,233.71 634.62,234.13 635.48,234.54 636.33,234.95 637.18,235.35 638.04,235.74 638.89,236.13 639.74,236.51 640.60,236.89 641.45,237.26 642.30,237.63 643.15,237.99 644.01,238.34 644.86,238.69 645.71,239.04 646.57,239.38 647.42,239.72 648.27,240.05 649.13,240.38 649.98,240.71 650.83,241.03 651.68,241.34 652.54,241.66 653.39,241.97 654.24,242.27 655.10,242.57 655.95,242.87 656.80,243.17 657.66,243.46 658.51,243.75 659.36,244.03 660.22,244.31 661.07,244.59 661.92,244.86 662.77,245.13 663.63,245.40 664.48,245.66 665.33,245.92 666.19,246.18 667.04,246.43 667.89,246.68 668.75,246.93 669.60,247.17 670.45,247.41 671.30,247.64 672.16,247.88 673.01,248.11 673.86,248.33 674.72,248.55 675.57,248.77 676.42,248.99 677.27,249.20 678.13,249.40 678.98,249.61 679.83,249.81 680.69,250.01 681.54,250.20 682.39,250.39 683.25,250.58 684.10,250.76 684.95,250.94 685.81,251.12 686.66,251.29 687.51,251.46 688.36,251.62 689.22,251.79 690.07,251.94 690.92,252.10 691.78,252.25 692.63,252.40 693.48,252.55 694.34,252.69 695.19,252.83 696.04,252.96 696.89,253.10 697.75,253.22 698.60,253.35 699.45,253.47 700.31,253.59 701.16,253.71 702.01,253.82 702.87,253.94 703.72,254.04 704.57,254.15 705.42,254.25 706.28,254.35 707.13,254.45" fill="none" stroke="#d02828" stroke-width="1.9" stroke-linejoin="round"/></g>
<line x1="592" y1="18.40" x2="609.5" y2="18.40" stroke="#141414" stroke-width="1.9"/>
<text x="613.4" y="22.70" class="lg">Experiment</text>
<line x1="592" y1="37.20" x2="609.5" y2="37.20" stroke="#dc3030" stroke-width="1.9"/>
<text x="613.4" y="41.50" class="lg">Fitted</text>
<line x1="592" y1="56.00" x2="609.5" y2="56.00" stroke="#20209e" stroke-width="1.9"/>
<text x="613.4" y="60.30" class="lg">Ordered</text>
<line x1="592" y1="74.80" x2="609.5" y2="74.80" stroke="#8ede8e" stroke-width="1.9"/>
<text x="613.4" y="79.10" class="lg">Disordered</text>
<text transform="translate(412.0,130.7) rotate(-90)" text-anchor="middle" class="ay">Normalized Fluorescence Intensity [–]</text>
<text x="562.2" y="294.0" text-anchor="middle" class="ax" style="font-size:14.9px">Wavelength [nm]</text>
<text x="509.5" y="188.8" class="al" fill="#1c22cc">A</text><text x="520.70" y="192.40" class="as" fill="#1c22cc">o</text>
<text x="584.8" y="251.6" class="al" fill="#2bb05c">A</text><text x="596.00" y="255.20" class="as" fill="#2bb05c">d</text>
<text x="358.2" y="23.2" class="pl">(b)</text>
<rect x="83.3" y="328.7" width="256.10" height="257.60" fill="none" stroke="#464646" stroke-width="1.5"/>
<path d="M100.37,586.3v-2.3M100.37,328.7v2.3M117.45,586.3v-2.3M117.45,328.7v2.3M134.52,586.3v-2.3M134.52,328.7v2.3M151.59,586.3v-2.3M151.59,328.7v2.3M168.67,586.3v-2.3M168.67,328.7v2.3M185.74,586.3v-2.3M185.74,328.7v2.3M202.81,586.3v-2.3M202.81,328.7v2.3M219.89,586.3v-2.3M219.89,328.7v2.3M236.96,586.3v-2.3M236.96,328.7v2.3M254.03,586.3v-2.3M254.03,328.7v2.3M271.11,586.3v-2.3M271.11,328.7v2.3M288.18,586.3v-2.3M288.18,328.7v2.3M305.25,586.3v-2.3M305.25,328.7v2.3M322.33,586.3v-2.3M322.33,328.7v2.3M83.3,567.95h2.4M339.4,567.95h-2.4M83.3,549.60h2.4M339.4,549.60h-2.4M83.3,531.25h2.4M339.4,531.25h-2.4M83.3,512.90h2.4M339.4,512.90h-2.4M83.3,494.55h2.4M339.4,494.55h-2.4M83.3,476.20h2.4M339.4,476.20h-2.4M83.3,457.85h2.4M339.4,457.85h-2.4M83.3,439.50h2.4M339.4,439.50h-2.4M83.3,421.15h2.4M339.4,421.15h-2.4M83.3,402.80h2.4M339.4,402.80h-2.4M83.3,384.45h2.4M339.4,384.45h-2.4M83.3,366.10h2.4M339.4,366.10h-2.4M83.3,347.75h2.4M339.4,347.75h-2.4" stroke="#262626" stroke-width="1.2" fill="none"/>
<text x="81.00" y="590.70" text-anchor="end" class="tk">0</text>
<text x="81.00" y="498.95" text-anchor="end" class="tk">0.5</text>
<text x="81.00" y="407.20" text-anchor="end" class="tk">1</text>
<text x="82.80" y="600.50" text-anchor="middle" class="tk">400</text>
<text x="253.53" y="600.50" text-anchor="middle" class="tk">500</text>
<g clip-path="url(#cc)"><polyline points="74.76,586.30 75.62,586.30 76.47,586.30 77.32,586.30 78.18,586.30 79.03,586.30 79.89,586.30 80.74,586.30 81.59,586.30 82.45,586.30 83.30,586.30 84.15,586.30 85.01,586.30 85.86,586.30 86.71,586.30 87.57,586.30 88.42,586.30 89.28,586.30 90.13,586.30 90.98,586.30 91.84,586.30 92.69,586.30 93.54,586.30 94.40,586.30 95.25,586.30 96.10,586.30 96.96,586.30 97.81,586.30 98.67,586.30 99.52,586.30 100.37,586.30 101.23,586.30 102.08,586.30 102.93,586.30 103.79,586.30 104.64,586.30 105.50,586.30 106.35,586.30 107.20,586.30 108.06,586.30 108.91,586.30 109.76,586.30 110.62,586.30 111.47,586.30 112.32,586.30 113.18,586.30 114.03,586.30 114.89,586.29 115.74,586.29 116.59,586.29 117.45,586.29 118.30,586.29 119.15,586.29 120.01,586.29 120.86,586.28 121.72,586.28 122.57,586.28 123.42,586.27 124.28,586.27 125.13,586.26 125.98,586.26 126.84,586.25 127.69,586.24 128.54,586.23 129.40,586.22 130.25,586.20 131.11,586.18 131.96,586.17 132.81,586.14 133.67,586.12 134.52,586.09 135.37,586.05 136.23,586.01 137.08,585.97 137.93,585.92 138.79,585.86 139.64,585.79 140.50,585.72 141.35,585.63 142.20,585.53 143.06,585.43 143.91,585.30 144.76,585.16 145.62,585.01 146.47,584.83 147.32,584.64 148.18,584.42 149.03,584.18 149.89,583.92 150.74,583.63 151.59,583.30 152.45,582.95 153.30,582.56 154.15,582.13 155.01,581.67 155.86,581.16 156.72,580.61 157.57,580.02 158.42,579.37 159.28,578.68 160.13,577.94 160.98,577.14 161.84,576.29 162.69,575.39 163.54,574.42 164.40,573.40 165.25,572.32 166.11,571.18 166.96,569.98 167.81,568.72 168.67,567.40 169.52,566.02 170.37,564.58 171.23,563.09 172.08,561.54 172.94,559.93 173.79,558.27 174.64,556.57 175.50,554.81 176.35,553.01 177.20,551.17 178.06,549.28 178.91,547.35 179.76,545.39 180.62,543.40 181.47,541.37 182.33,539.32 183.18,537.24 184.03,535.14 184.89,533.01 185.74,530.86 186.59,528.69 187.45,526.51 188.30,524.31 189.15,522.09 190.01,519.86 190.86,517.61 191.72,515.35 192.57,513.08 193.42,510.79 194.28,508.49 195.13,506.17 195.98,503.84 196.84,501.50 197.69,499.14 198.54,496.76 199.40,494.37 200.25,491.97 201.11,489.55 201.96,487.12 202.81,484.68 203.67,482.22 204.52,479.75 205.37,477.28 206.23,474.79 207.08,472.30 207.94,469.81 208.79,467.32 209.64,464.83 210.50,462.35 211.35,459.87 212.20,457.41 213.06,454.96 213.91,452.54 214.76,450.14 215.62,447.77 216.47,445.43 217.33,443.12 218.18,440.86 219.03,438.64 219.89,436.46 220.74,434.34 221.59,432.27 222.45,430.26 223.30,428.31 224.15,426.43 225.01,424.61 225.86,422.86 226.72,421.17 227.57,419.56 228.42,418.02 229.28,416.55 230.13,415.16 230.98,413.84 231.84,412.59 232.69,411.42 233.55,410.32 234.40,409.29 235.25,408.33 236.11,407.45 236.96,406.64 237.81,405.89 238.67,405.21 239.52,404.59 240.37,404.04 241.23,403.55 242.08,403.12 242.94,402.75 243.79,402.43 244.64,402.17 245.50,401.96 246.35,401.81 247.20,401.71 248.06,401.65 248.91,401.64 249.76,401.68 250.62,401.77 251.47,401.90 252.33,402.07 253.18,402.29 254.03,402.55 254.89,402.85 255.74,403.19 256.59,403.57 257.45,403.99 258.30,404.46 259.16,404.96 260.01,405.50 260.86,406.09 261.72,406.71 262.57,407.37 263.42,408.07 264.28,408.82 265.13,409.59 265.98,410.41 266.84,411.27 267.69,412.16 268.55,413.09 269.40,414.06 270.25,415.07 271.11,416.11 271.96,417.19 272.81,418.30 273.67,419.44 274.52,420.61 275.38,421.82 276.23,423.06 277.08,424.32 277.94,425.61 278.79,426.93 279.64,428.27 280.50,429.64 281.35,431.02 282.20,432.43 283.06,433.85 283.91,435.29 284.77,436.75 285.62,438.21 286.47,439.69 287.33,441.18 288.18,442.68 289.03,444.18 289.89,445.69 290.74,447.21 291.59,448.72 292.45,450.24 293.30,451.76 294.16,453.28 295.01,454.79 295.86,456.31 296.72,457.82 297.57,459.33 298.42,460.84 299.28,462.34 300.13,463.83 300.98,465.33 301.84,466.82 302.69,468.30 303.55,469.78 304.40,471.26 305.25,472.73 306.11,474.20 306.96,475.67 307.81,477.13 308.67,478.59 309.52,480.05 310.38,481.51 311.23,482.97 312.08,484.43 312.94,485.89 313.79,487.35 314.64,488.81 315.50,490.27 316.35,491.72 317.20,493.18 318.06,494.64 318.91,496.09 319.77,497.55 320.62,498.99 321.47,500.44 322.33,501.88 323.18,503.31 324.03,504.73 324.89,506.14 325.74,507.53 326.59,508.91 327.45,510.28 328.30,511.62 329.16,512.94 330.01,514.24 330.86,515.51 331.72,516.75 332.57,517.97 333.42,519.15 334.28,520.30 335.13,521.41 335.99,522.50 336.84,523.55 337.69,524.56 338.55,525.54 339.40,526.49 340.25,527.41 341.11,528.31 341.96,529.18 342.81,530.03 343.67,530.86 344.52,531.68 345.38,532.49 346.23,533.30 347.08,534.10 347.94,534.92" fill="none" stroke="#48dc48" stroke-width="1.9" stroke-linejoin="round"/>
<polyline points="74.76,585.80 75.62,585.77 76.47,585.74 77.32,585.70 78.18,585.65 79.03,585.61 79.89,585.56 80.74,585.50 81.59,585.45 82.45,585.38 83.30,585.32 84.15,585.24 85.01,585.17 85.86,585.08 86.71,584.99 87.57,584.89 88.42,584.79 89.28,584.68 90.13,584.56 90.98,584.44 91.84,584.31 92.69,584.17 93.54,584.03 94.40,583.88 95.25,583.72 96.10,583.55 96.96,583.38 97.81,583.21 98.67,583.03 99.52,582.85 100.37,582.66 101.23,582.47 102.08,582.27 102.93,582.08 103.79,581.89 104.64,581.69 105.50,581.50 106.35,581.30 107.20,581.11 108.06,580.93 108.91,580.74 109.76,580.56 110.62,580.39 111.47,580.22 112.32,580.05 113.18,579.89 114.03,579.73 114.89,579.58 115.74,579.43 116.59,579.29 117.45,579.15 118.30,579.01 119.15,578.87 120.01,578.73 120.86,578.60 121.72,578.46 122.57,578.32 123.42,578.18 124.28,578.04 125.13,577.89 125.98,577.73 126.84,577.57 127.69,577.40 128.54,577.23 129.40,577.04 130.25,576.84 131.11,576.64 131.96,576.42 132.81,576.19 133.67,575.95 134.52,575.70 135.37,575.44 136.23,575.15 137.08,574.85 137.93,574.52 138.79,574.19 139.64,573.84 140.50,573.49 141.35,573.14 142.20,572.79 143.06,572.44 143.91,572.10 144.76,571.77 145.62,571.46 146.47,571.14 147.32,570.83 148.18,570.53 149.03,570.24 149.89,569.96 150.74,569.69 151.59,569.44 152.45,569.19 153.30,568.97 154.15,568.76 155.01,568.57 155.86,568.40 156.72,568.25 157.57,568.12 158.42,568.01 159.28,567.92 160.13,567.86 160.98,567.81 161.84,567.79 162.69,567.79 163.54,567.81 164.40,567.86 165.25,567.92 166.11,568.01 166.96,568.12 167.81,568.26 168.67,568.41 169.52,568.59 170.37,568.78 171.23,569.00 172.08,569.24 172.94,569.49 173.79,569.77 174.64,570.06 175.50,570.38 176.35,570.71 177.20,571.05 178.06,571.42 178.91,571.80 179.76,572.19 180.62,572.59 181.47,573.01 182.33,573.44 183.18,573.87 184.03,574.32 184.89,574.77 185.74,575.23 186.59,575.69 187.45,576.15 188.30,576.61 189.15,577.07 190.01,577.53 190.86,577.99 191.72,578.44 192.57,578.88 193.42,579.32 194.28,579.74 195.13,580.16 195.98,580.56 196.84,580.95 197.69,581.33 198.54,581.69 199.40,582.03 200.25,582.36 201.11,582.68 201.96,582.98 202.81,583.26 203.67,583.52 204.52,583.77 205.37,584.00 206.23,584.22 207.08,584.42 207.94,584.61 208.79,584.78 209.64,584.94 210.50,585.08 211.35,585.21 212.20,585.34 213.06,585.44 213.91,585.54 214.76,585.63 215.62,585.71 216.47,585.78 217.33,585.85 218.18,585.91 219.03,585.96 219.89,586.00 220.74,586.04 221.59,586.08 222.45,586.11 223.30,586.13 224.15,586.16 225.01,586.18 225.86,586.20 226.72,586.21 227.57,586.22 228.42,586.24 229.28,586.24 230.13,586.25 230.98,586.26 231.84,586.27 232.69,586.27 233.55,586.28 234.40,586.28 235.25,586.28 236.11,586.29 236.96,586.29 237.81,586.29 238.67,586.29 239.52,586.29 240.37,586.29 241.23,586.30 242.08,586.30 242.94,586.30 243.79,586.30 244.64,586.30 245.50,586.30 246.35,586.30 247.20,586.30 248.06,586.30 248.91,586.30 249.76,586.30 250.62,586.30 251.47,586.30 252.33,586.30 253.18,586.30 254.03,586.30 254.89,586.30 255.74,586.30 256.59,586.30 257.45,586.30 258.30,586.30 259.16,586.30 260.01,586.30 260.86,586.30 261.72,586.30 262.57,586.30 263.42,586.30 264.28,586.30 265.13,586.30 265.98,586.30 266.84,586.30 267.69,586.30 268.55,586.30 269.40,586.30 270.25,586.30 271.11,586.30 271.96,586.30 272.81,586.30 273.67,586.30 274.52,586.30 275.38,586.30 276.23,586.30 277.08,586.30 277.94,586.30 278.79,586.30 279.64,586.30 280.50,586.30 281.35,586.30 282.20,586.30 283.06,586.30 283.91,586.30 284.77,586.30 285.62,586.30 286.47,586.30 287.33,586.30 288.18,586.30 289.03,586.30 289.89,586.30 290.74,586.30 291.59,586.30 292.45,586.30 293.30,586.30 294.16,586.30 295.01,586.30 295.86,586.30 296.72,586.30 297.57,586.30 298.42,586.30 299.28,586.30 300.13,586.30 300.98,586.30 301.84,586.30 302.69,586.30 303.55,586.30 304.40,586.30 305.25,586.30 306.11,586.30 306.96,586.30 307.81,586.30 308.67,586.30 309.52,586.30 310.38,586.30 311.23,586.30 312.08,586.30 312.94,586.30 313.79,586.30 314.64,586.30 315.50,586.30 316.35,586.30 317.20,586.30 318.06,586.30 318.91,586.30 319.77,586.30 320.62,586.30 321.47,586.30 322.33,586.30 323.18,586.30 324.03,586.30 324.89,586.30 325.74,586.30 326.59,586.30 327.45,586.30 328.30,586.30 329.16,586.30 330.01,586.30 330.86,586.30 331.72,586.30 332.57,586.30 333.42,586.30 334.28,586.30 335.13,586.30 335.99,586.30 336.84,586.30 337.69,586.30 338.55,586.30 339.40,586.30 340.25,586.30 341.11,586.30 341.96,586.30 342.81,586.30 343.67,586.30 344.52,586.30 345.38,586.30 346.23,586.30 347.08,586.30 347.94,586.30" fill="none" stroke="#2626c4" stroke-width="1.9" stroke-linejoin="round"/>
<polyline points="74.76,585.80 75.62,585.77 76.47,585.74 77.32,585.70 78.18,585.65 79.03,585.61 79.89,585.56 80.74,585.50 81.59,585.45 82.45,585.38 83.30,585.32 84.15,585.23 85.01,585.10 85.86,584.94 86.71,584.76 87.57,584.56 88.42,584.36 89.28,584.15 90.13,583.94 90.98,583.75 91.84,583.58 92.69,583.41 93.54,583.24 94.40,583.06 95.25,582.88 96.10,582.69 96.96,582.50 97.81,582.31 98.67,582.12 99.52,581.93 100.37,581.74 101.23,581.55 102.08,581.36 102.93,581.16 103.79,580.97 104.64,580.77 105.50,580.58 106.35,580.39 107.20,580.20 108.06,580.01 108.91,579.82 109.76,579.65 110.62,579.48 111.47,579.32 112.32,579.17 113.18,579.03 114.03,578.89 114.89,578.76 115.74,578.64 116.59,578.52 117.45,578.40 118.30,578.29 119.15,578.18 120.01,578.08 120.86,577.98 121.72,577.88 122.57,577.78 123.42,577.67 124.28,577.56 125.13,577.45 125.98,577.32 126.84,577.19 127.69,577.06 128.54,576.92 129.40,576.77 130.25,576.61 131.11,576.43 131.96,576.23 132.81,576.01 133.67,575.76 134.52,575.49 135.37,575.20 136.23,574.88 137.08,574.56 137.93,574.21 138.79,573.85 139.64,573.47 140.50,573.08 141.35,572.66 142.20,572.23 143.06,571.78 143.91,571.32 144.76,570.83 145.62,570.33 146.47,569.81 147.32,569.27 148.18,568.71 149.03,568.14 149.89,567.54 150.74,566.93 151.59,566.29 152.45,565.64 153.30,564.97 154.15,564.28 155.01,563.56 155.86,562.83 156.72,562.07 157.57,561.30 158.42,560.50 159.28,559.68 160.13,558.84 160.98,557.97 161.84,557.08 162.69,556.17 163.54,555.23 164.40,554.26 165.25,553.28 166.11,552.26 166.96,551.22 167.81,550.15 168.67,549.05 169.52,547.93 170.37,546.77 171.23,545.59 172.08,544.38 172.94,543.14 173.79,541.86 174.64,540.56 175.50,539.22 176.35,537.86 177.20,536.46 178.06,535.02 178.91,533.56 179.76,532.06 180.62,530.53 181.47,528.96 182.33,527.36 183.18,525.73 184.03,524.06 184.89,522.36 185.74,520.63 186.59,518.86 187.45,517.06 188.30,515.23 189.15,513.36 190.01,511.46 190.86,509.53 191.72,507.57 192.57,505.58 193.42,503.56 194.28,501.52 195.13,499.44 195.98,497.34 196.84,495.22 197.69,493.07 198.54,490.90 199.40,488.71 200.25,486.51 201.11,484.28 201.96,482.04 202.81,479.79 203.67,477.52 204.52,475.25 205.37,472.97 206.23,470.69 207.08,468.40 207.94,466.12 208.79,463.83 209.64,461.56 210.50,459.29 211.35,457.03 212.20,454.79 213.06,452.56 213.91,450.35 214.76,448.16 215.62,445.99 216.47,443.86 217.33,441.75 218.18,439.67 219.03,437.63 219.89,435.63 220.74,433.67 221.59,431.75 222.45,429.87 223.30,428.05 224.15,426.27 225.01,424.54 225.86,422.87 226.72,421.26 227.57,419.70 228.42,418.20 229.28,416.76 230.13,415.38 230.98,414.07 231.84,412.82 232.69,411.64 233.55,410.52 234.40,409.47 235.25,408.49 236.11,407.57 236.96,406.72 237.81,405.92 238.67,405.14 239.52,404.40 240.37,403.71 241.23,403.09 242.08,402.55 242.94,402.09 243.79,401.74 244.64,401.47 245.50,401.25 246.35,401.10 247.20,401.00 248.06,400.95 248.91,400.96 249.76,401.02 250.62,401.12 251.47,401.28 252.33,401.48 253.18,401.72 254.03,402.01 254.89,402.35 255.74,402.77 256.59,403.24 257.45,403.76 258.30,404.33 259.16,404.93 260.01,405.56 260.86,406.22 261.72,406.89 262.57,407.57 263.42,408.27 264.28,409.00 265.13,409.77 265.98,410.58 266.84,411.42 267.69,412.29 268.55,413.21 269.40,414.15 270.25,415.14 271.11,416.16 271.96,417.21 272.81,418.30 273.67,419.42 274.52,420.58 275.38,421.77 276.23,422.99 277.08,424.24 277.94,425.52 278.79,426.83 279.64,428.17 280.50,429.53 281.35,430.92 282.20,432.32 283.06,433.75 283.91,435.19 284.77,436.65 285.62,438.13 286.47,439.61 287.33,441.10 288.18,442.61 289.03,444.12 289.89,445.63 290.74,447.15 291.59,448.67 292.45,450.20 293.30,451.72 294.16,453.24 295.01,454.77 295.86,456.29 296.72,457.80 297.57,459.32 298.42,460.83 299.28,462.34 300.13,463.84 300.98,465.35 301.84,466.84 302.69,468.34 303.55,469.83 304.40,471.32 305.25,472.81 306.11,474.29 306.96,475.77 307.81,477.25 308.67,478.72 309.52,480.20 310.38,481.67 311.23,483.13 312.08,484.60 312.94,486.06 313.79,487.52 314.64,488.97 315.50,490.42 316.35,491.87 317.20,493.32 318.06,494.75 318.91,496.19 319.77,497.62 320.62,499.04 321.47,500.45 322.33,501.86 323.18,503.26 324.03,504.65 324.89,506.02 325.74,507.39 326.59,508.74 327.45,510.08 328.30,511.41 329.16,512.72 330.01,514.01 330.86,515.28 331.72,516.54 332.57,517.77 333.42,518.98 334.28,520.16 335.13,521.32 335.99,522.45 336.84,523.55 337.69,524.62 338.55,525.66 339.40,526.67 340.25,527.64 341.11,528.58 341.96,529.49 342.81,530.36 343.67,531.20 344.52,532.00 345.38,532.77 346.23,533.51 347.08,534.22 347.94,534.90" fill="none" stroke="#141414" stroke-width="1.9" stroke-linejoin="round"/>
<polyline points="74.76,585.80 75.62,585.77 76.47,585.74 77.32,585.70 78.18,585.65 79.03,585.61 79.89,585.56 80.74,585.50 81.59,585.45 82.45,585.38 83.30,585.32 84.15,585.24 85.01,585.17 85.86,585.08 86.71,584.99 87.57,584.89 88.42,584.79 89.28,584.68 90.13,584.56 90.98,584.44 91.84,584.31 92.69,584.17 93.54,584.03 94.40,583.88 95.25,583.72 96.10,583.55 96.96,583.38 97.81,583.21 98.67,583.03 99.52,582.85 100.37,582.66 101.23,582.47 102.08,582.27 102.93,582.08 103.79,581.89 104.64,581.69 105.50,581.50 106.35,581.30 107.20,581.11 108.06,580.93 108.91,580.74 109.76,580.56 110.62,580.39 111.47,580.21 112.32,580.05 113.18,579.89 114.03,579.73 114.89,579.57 115.74,579.43 116.59,579.28 117.45,579.14 118.30,579.00 119.15,578.86 120.01,578.72 120.86,578.58 121.72,578.44 122.57,578.30 123.42,578.16 124.28,578.01 125.13,577.85 125.98,577.69 126.84,577.52 127.69,577.34 128.54,577.15 129.40,576.96 130.25,576.75 131.11,576.52 131.96,576.29 132.81,576.04 133.67,575.77 134.52,575.49 135.37,575.20 136.23,574.88 137.08,574.56 137.93,574.21 138.79,573.85 139.64,573.47 140.50,573.08 141.35,572.66 142.20,572.23 143.06,571.78 143.91,571.32 144.76,570.83 145.62,570.33 146.47,569.81 147.32,569.27 148.18,568.71 149.03,568.14 149.89,567.54 150.74,566.93 151.59,566.29 152.45,565.64 153.30,564.97 154.15,564.28 155.01,563.56 155.86,562.83 156.72,562.07 157.57,561.30 158.42,560.50 159.28,559.68 160.13,558.84 160.98,557.97 161.84,557.08 162.69,556.17 163.54,555.23 164.40,554.26 165.25,553.28 166.11,552.26 166.96,551.22 167.81,550.15 168.67,549.05 169.52,547.93 170.37,546.77 171.23,545.59 172.08,544.38 172.94,543.14 173.79,541.86 174.64,540.56 175.50,539.22 176.35,537.86 177.20,536.46 178.06,535.02 178.91,533.56 179.76,532.06 180.62,530.53 181.47,528.96 182.33,527.36 183.18,525.73 184.03,524.06 184.89,522.36 185.74,520.63 186.59,518.86 187.45,517.06 188.30,515.23 189.15,513.36 190.01,511.46 190.86,509.53 191.72,507.57 192.57,505.58 193.42,503.56 194.28,501.52 195.13,499.44 195.98,497.34 196.84,495.22 197.69,493.07 198.54,490.90 199.40,488.71 200.25,486.51 201.11,484.28 201.96,482.04 202.81,479.79 203.67,477.52 204.52,475.25 205.37,472.97 206.23,470.69 207.08,468.40 207.94,466.12 208.79,463.83 209.64,461.56 210.50,459.29 211.35,457.03 212.20,454.79 213.06,452.56 213.91,450.35 214.76,448.16 215.62,445.99 216.47,443.86 217.33,441.75 218.18,439.67 219.03,437.63 219.89,435.63 220.74,433.67 221.59,431.75 222.45,429.87 223.30,428.05 224.15,426.27 225.01,424.54 225.86,422.87 226.72,421.26 227.57,419.70 228.42,418.20 229.28,416.76 230.13,415.38 230.98,414.07 231.84,412.82 232.69,411.64 233.55,410.52 234.40,409.47 235.25,408.49 236.11,407.57 236.96,406.72 237.81,405.94 238.67,405.22 239.52,404.57 240.37,403.99 241.23,403.47 242.08,403.01 242.94,402.62 243.79,402.29 244.64,402.02 245.50,401.80 246.35,401.65 247.20,401.55 248.06,401.50 248.91,401.51 249.76,401.57 250.62,401.67 251.47,401.83 252.33,402.03 253.18,402.27 254.03,402.56 254.89,402.89 255.74,403.26 256.59,403.67 257.45,404.12 258.30,404.60 259.16,405.12 260.01,405.68 260.86,406.27 261.72,406.90 262.57,407.57 263.42,408.27 264.28,409.00 265.13,409.77 265.98,410.58 266.84,411.42 267.69,412.29 268.55,413.21 269.40,414.15 270.25,415.14 271.11,416.16 271.96,417.21 272.81,418.30 273.67,419.42 274.52,420.58 275.38,421.77 276.23,422.99 277.08,424.24 277.94,425.52 278.79,426.83 279.64,428.17 280.50,429.53 281.35,430.92 282.20,432.32 283.06,433.75 283.91,435.19 284.77,436.65 285.62,438.13 286.47,439.61 287.33,441.10 288.18,442.61 289.03,444.12 289.89,445.63 290.74,447.15 291.59,448.67 292.45,450.20 293.30,451.72 294.16,453.24 295.01,454.77 295.86,456.29 296.72,457.80 297.57,459.32 298.42,460.83 299.28,462.34 300.13,463.84 300.98,465.35 301.84,466.84 302.69,468.34 303.55,469.83 304.40,471.32 305.25,472.81 306.11,474.29 306.96,475.77 307.81,477.25 308.67,478.72 309.52,480.20 310.38,481.67 311.23,483.13 312.08,484.60 312.94,486.06 313.79,487.52 314.64,488.97 315.50,490.42 316.35,491.87 317.20,493.32 318.06,494.75 318.91,496.19 319.77,497.62 320.62,499.04 321.47,500.45 322.33,501.86 323.18,503.26 324.03,504.65 324.89,506.02 325.74,507.39 326.59,508.74 327.45,510.08 328.30,511.41 329.16,512.72 330.01,514.01 330.86,515.28 331.72,516.54 332.57,517.77 333.42,518.98 334.28,520.16 335.13,521.32 335.99,522.45 336.84,523.55 337.69,524.62 338.55,525.66 339.40,526.67 340.25,527.64 341.11,528.58 341.96,529.49 342.81,530.36 343.67,531.20 344.52,532.00 345.38,532.77 346.23,533.51 347.08,534.22 347.94,534.90" fill="none" stroke="#d02828" stroke-width="1.9" stroke-linejoin="round"/></g>
<line x1="102.9" y1="345.20" x2="120" y2="345.20" stroke="#141414" stroke-width="1.9"/>
<text x="124" y="349.50" class="lg">Experiment</text>
<line x1="102.9" y1="363.60" x2="120" y2="363.60" stroke="#dc3030" stroke-width="1.9"/>
<text x="124" y="367.90" class="lg">Fitted</text>
<line x1="102.9" y1="382.00" x2="120" y2="382.00" stroke="#20209e" stroke-width="1.9"/>
<text x="124" y="386.30" class="lg">Ordered</text>
<line x1="102.9" y1="400.40" x2="120" y2="400.40" stroke="#8ede8e" stroke-width="1.9"/>
<text x="124" y="404.70" class="lg">Disordered</text>
<text transform="translate(52.8,459.6) rotate(-90)" text-anchor="middle" class="ay">Normalized Fluorescence Intensity [–]</text>
<text x="204.7" y="622.9" text-anchor="middle" class="ax">Wavelength [nm]</text>
<text x="245.8" y="523.6" class="al" fill="#2bb05c">A</text><text x="257.00" y="527.20" class="as" fill="#2bb05c">d</text>
<text x="164.6" y="583.6" class="al" fill="#1c22cc">A</text><text x="175.80" y="587.20" class="as" fill="#1c22cc">o</text>
<text x="-0.2" y="344.0" class="pl">(c)</text>
<rect x="439.8" y="328.5" width="258.20" height="258.80" fill="none" stroke="#464646" stroke-width="1.5"/>
<path d="M439.8,567.80h2.5M698.0,567.80h-2.5M439.8,547.80h2.5M698.0,547.80h-2.5M439.8,527.80h3.5M698.0,527.80h-3.5M439.8,507.80h2.5M698.0,507.80h-2.5M439.8,487.80h2.5M698.0,487.80h-2.5M439.8,467.80h2.5M698.0,467.80h-2.5M439.8,447.80h2.5M698.0,447.80h-2.5M439.8,407.80h2.5M698.0,407.80h-2.5M439.8,387.80h2.5M698.0,387.80h-2.5M439.8,367.80h2.5M698.0,367.80h-2.5M439.8,347.80h2.5M698.0,347.80h-2.5M454.92,328.5v2.5M470.60,328.5v3.5M486.28,328.5v2.5M501.96,328.5v2.5M517.64,328.5v2.5M533.32,328.5v2.5M549.00,328.5v3.5M564.68,328.5v2.5M580.36,328.5v2.5M596.04,328.5v2.5M611.72,328.5v2.5M627.40,328.5v3.5M643.08,328.5v2.5M658.76,328.5v2.5M674.44,328.5v2.5M690.12,328.5v2.5" stroke="#222" stroke-width="1.3" fill="none"/>
<line x1="439.8" y1="427.8" x2="698.0" y2="427.8" stroke="#464646" stroke-width="1.5"/>
<rect x="461.70" y="347.00" width="18.6" height="80.80" fill="#c3c3c3" stroke="#1a1a1a" stroke-width="1.3"/>
<line x1="461.70" y1="347.40" x2="480.30" y2="347.40" stroke="#2a2a2a" stroke-width="2"/>
<text x="468.60" y="445.70" text-anchor="middle" class="bl">a</text>
<rect x="501.60" y="427.80" width="18.6" height="56.90" fill="#c3c3c3" stroke="#1a1a1a" stroke-width="1.3"/>
<line x1="506.30" y1="484.00" x2="515.30" y2="484.00" stroke="#111" stroke-width="1.8"/>
<text x="509.25" y="445.70" text-anchor="middle" class="bl">b</text>
<rect x="539.90" y="427.80" width="18.6" height="60.40" fill="#c3c3c3" stroke="#1a1a1a" stroke-width="1.3"/>
<line x1="544.60" y1="487.50" x2="553.60" y2="487.50" stroke="#111" stroke-width="1.8"/>
<text x="548.70" y="445.70" text-anchor="middle" class="bl">c</text>
<rect x="578.70" y="427.80" width="18.6" height="67.60" fill="#c3c3c3" stroke="#1a1a1a" stroke-width="1.3"/>
<text x="588.50" y="445.70" text-anchor="middle" class="bl">d</text>
<rect x="618.20" y="427.80" width="18.6" height="75.70" fill="#c3c3c3" stroke="#1a1a1a" stroke-width="1.3"/>
<line x1="622.90" y1="502.80" x2="631.90" y2="502.80" stroke="#111" stroke-width="1.8"/>
<text x="627.50" y="445.70" text-anchor="middle" class="bl">e</text>
<rect x="657.40" y="427.80" width="18.6" height="144.50" fill="#c3c3c3" stroke="#1a1a1a" stroke-width="1.3"/>
<text x="667.10" y="445.70" text-anchor="middle" class="bl">f</text>
<text x="437.20" y="332.10" text-anchor="end" class="tk">0.5</text>
<text x="437.20" y="432.10" text-anchor="end" class="tk">0</text>
<text x="437.20" y="532.10" text-anchor="end" class="tk">–0.5</text>
<text transform="translate(404,432) rotate(-90)" text-anchor="middle" class="gp"><tspan font-style="italic">GP</tspan><tspan font-size="11" dy="3">340</tspan><tspan dy="-3"> [–]</tspan></text>
<text x="358.6" y="344.0" class="pl">(d)</text>
</svg></body></html>
